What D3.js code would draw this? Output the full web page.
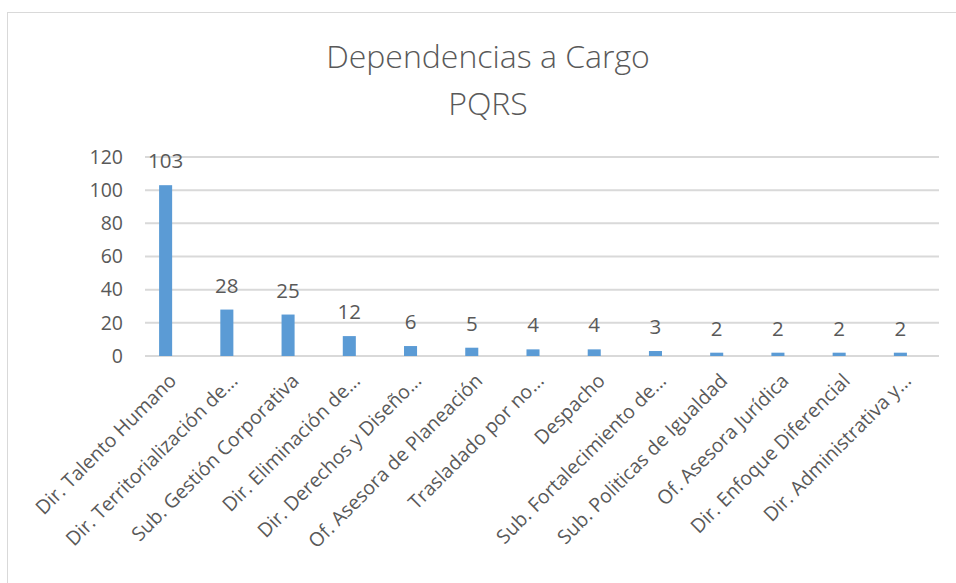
<!DOCTYPE html>
<html lang="es">
<head>
<meta charset="UTF-8">
<title>Dependencias a Cargo PQRS</title>
<style>
  body { margin: 0; background: #fff; }
  svg { display: block; font-family: "Open Sans", sans-serif; }
</style>
</head>
<body>
<div id="chart"></div>
<script src="https://d3js.org/d3.v7.min.js"></script>
<script>
const categories = [
  "Dir. Talento Humano",
  "Dir. Territorialización de...",
  "Sub. Gestión Corporativa",
  "Dir. Eliminación de...",
  "Dir. Derechos y Diseño...",
  "Of. Asesora de Planeación",
  "Trasladado por no...",
  "Despacho",
  "Sub. Fortalecimiento de...",
  "Sub. Politicas de Igualdad",
  "Of. Asesora Jurídica",
  "Dir. Enfoque Diferencial",
  "Dir. Administrativa y..."
];
const values = [103, 28, 25, 12, 6, 5, 4, 4, 3, 2, 2, 2, 2];
const yTicks = [0, 20, 40, 60, 80, 100, 120];

const W = 956, H = 583;
const textCol = "#595959";
const gridX0 = 145, gridX1 = 939;

const svg = d3.select("#chart").append("svg")
  .attr("width", W).attr("height", H);

// chart frame
svg.append("rect")
  .attr("x", 7.5).attr("y", 12.5)
  .attr("width", W).attr("height", H)
  .attr("fill", "#fff").attr("stroke", "#d9d9d9");

svg.append("text")
  .attr("x", 488).attr("y", 68)
  .attr("text-anchor", "middle")
  .attr("font-size", 32).attr("font-weight", 300)
  .attr("fill", textCol)
  .text("Dependencias  a Cargo");
svg.append("text")
  .attr("x", 488).attr("y", 115)
  .attr("text-anchor", "middle")
  .attr("font-size", 32).attr("font-weight", 300)
  .attr("fill", textCol)
  .text("PQRS");

const x = d3.scaleBand()
  .domain(categories)
  .range([135, 931])
  .paddingInner(0.787).paddingOuter(0.3935);

const y = d3.scaleLinear()
  .domain([0, 120])
  .range([356, 157]);

// gridlines
svg.append("g")
  .selectAll("line")
  .data(yTicks)
  .join("line")
  .attr("x1", gridX0).attr("x2", gridX1)
  .attr("y1", d => y(d)).attr("y2", d => y(d))
  .attr("stroke", "#d9d9d9").attr("stroke-width", 2);

// y axis labels
const yAxis = svg.append("g")
  .attr("transform", "translate(123,0)")
  .call(d3.axisLeft(y).tickValues(yTicks).tickSize(0).tickPadding(0));
yAxis.select(".domain").remove();
yAxis.selectAll("text")
  .attr("font-size", 19.5).attr("fill", textCol)
  .attr("font-family", "Open Sans, sans-serif");

// bars
svg.append("g")
  .selectAll("rect")
  .data(values)
  .join("rect")
  .attr("x", (d, i) => x(categories[i]))
  .attr("width", x.bandwidth())
  .attr("y", d => y(d))
  .attr("height", d => y(0) - y(d))
  .attr("fill", "#5b9bd5");

// data labels
svg.append("g")
  .selectAll("text")
  .data(values)
  .join("text")
  .attr("x", (d, i) => x(categories[i]) + x.bandwidth() / 2)
  .attr("y", d => y(d) - 17)
  .attr("text-anchor", "middle")
  .attr("font-size", 20.5).attr("fill", textCol)
  .text(d => d);

// x axis labels, rotated
const xAxis = svg.append("g")
  .attr("transform", `translate(0,${y(0)})`)
  .call(d3.axisBottom(x).tickSize(0).tickPadding(0));
xAxis.select(".domain").remove();
xAxis.selectAll("text")
  .attr("font-size", 19.5).attr("fill", textCol)
  .attr("font-family", "Open Sans, sans-serif")
  .attr("text-anchor", "end")
  .attr("dy", 0)
  .attr("transform", "translate(12,26) rotate(-45)");
</script>
</body>
</html>
